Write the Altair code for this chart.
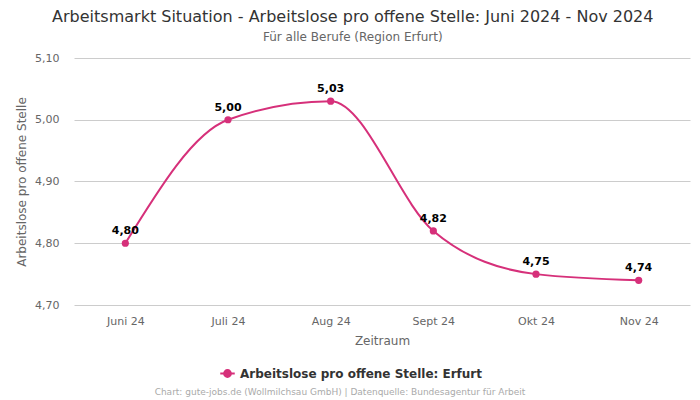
import altair as alt
import pandas as pd

months = ["Juni 24", "Juli 24", "Aug 24", "Sept 24", "Okt 24", "Nov 24"]
values = [4.80, 5.00, 5.03, 4.82, 4.75, 4.74]
series = ["Arbeitslose pro offene Stelle: Erfurt"] * 6

df = pd.DataFrame({"Monat": months, "Wert": values, "Serie": series})

color = "#d6307a"
W, H = 616, 247
FONT = "DejaVu Sans"

x = alt.X("Monat:N", sort=months, title="Zeitraum",
          scale=alt.Scale(paddingOuter=0.5),
          axis=alt.Axis(labelAngle=0, labelColor="#666666", labelFontSize=11,
                        titleColor="#666666", titleFontSize=12, titleFontWeight="normal",
                        ticks=False, domain=False, labelPadding=10, titlePadding=9))
y = alt.Y("Wert:Q", title="Arbeitslose pro offene Stelle",
          scale=alt.Scale(domain=[4.70, 5.10], nice=False, zero=False),
          axis=alt.Axis(values=[4.70, 4.80, 4.90, 5.00, 5.10],
                        labelExpr="replace(format(datum.value, '.2f'), '.', ',')",
                        labelColor="#666666", labelFontSize=11, labelPadding=15,
                        titleColor="#666666", titleFontSize=12, titleFontWeight="normal",
                        ticks=False, domain=False, gridColor="#cccccc", titlePadding=6))

base = alt.Chart(df)

line = base.mark_line(interpolate="monotone", strokeWidth=2).encode(
    x=x, y=y,
    color=alt.Color("Serie:N", scale=alt.Scale(range=[color]),
                    legend=alt.Legend(orient="none", legendX=145, legendY=307, title=None,
                                      labelFontSize=12, labelFontWeight="bold",
                                      labelColor="#333333", labelFont=FONT, labelLimit=0,
                                      symbolType="M-1,0L1,0M-0.47,0A0.47,0.47 0 1,0 0.47,0A0.47,0.47 0 1,0 -0.47,0Z",
                                      symbolFillColor=color, symbolStrokeColor=color,
                                      symbolSize=210, symbolStrokeWidth=2)))

pts = base.mark_point(filled=True, size=52, opacity=1, color=color).encode(x=x, y=y)

labels = base.transform_calculate(
    lab="replace(format(datum.Wert, '.2f'), '.', ',')"
).mark_text(dy=-12, fontSize=11, fontWeight="bold", color="#000000", font=FONT).encode(
    x=x, y=y, text="lab:N")

footer = base.transform_filter("datum.Monat == 'Juni 24'").mark_text(
    fontSize=9, color="#aaaaaa", font=FONT
).encode(
    x=alt.value(266), y=alt.value(334),
    text=alt.value("Chart: gute-jobs.de (Wollmilchsau GmbH) | Datenquelle: Bundesagentur für Arbeit"))

chart = alt.layer(line, pts, labels, footer).properties(
    width=W, height=H,
    title=alt.TitleParams(
        "Arbeitsmarkt Situation - Arbeitslose pro offene Stelle: Juni 2024 - Nov 2024",
        subtitle="Für alle Berufe (Region Erfurt)",
        fontSize=16, fontWeight="normal", color="#333333", font=FONT,
        subtitleFontSize=12, subtitleColor="#666666", subtitleFont=FONT,
        subtitlePadding=7, anchor="middle", frame="bounds", offset=9),
    padding={"left": 7, "right": 2, "top": 1, "bottom": 0}
).configure(font=FONT).configure_view(stroke=None)

chart.save("out.html", embed_options={"renderer": "svg", "actions": False})
